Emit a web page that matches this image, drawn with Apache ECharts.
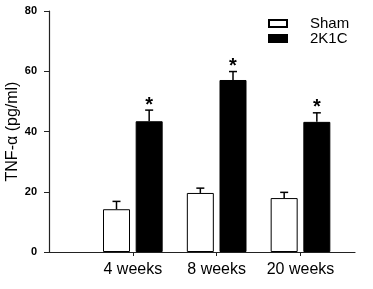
<!DOCTYPE html>
<html>
<head>
<meta charset="utf-8">
<style>
  html, body { margin: 0; padding: 0; background: #fff; }
  #chart { width: 373px; height: 289px; }
</style>
<script src="https://cdn.jsdelivr.net/npm/echarts@6/dist/echarts.min.js"></script>
</head>
<body>
<div id="chart"></div>
<script>
const groups = ['4 weeks', '8 weeks', '20 weeks'];
const groupPos = [1, 2, 3];
const shamMean = [14.2, 19.6, 17.9];
const shamErr = [2.6, 1.6, 1.9];
const k1cMean = [43.4, 57.1, 43.2];
const k1cErr = [3.7, 2.8, 3.0];
const yTicks = [0, 20, 40, 60, 80];

const BAR_W = 27;
const BAR_GAP = 0.21;
const FONT = '"Liberation Sans", Arial, sans-serif';

const chart = echarts.init(document.getElementById('chart'));

const toPairs = (vals) => vals.map((v, i) => [groupPos[i], v]);

// error bar items: [x, mean, err, side(-1 sham / 1 2K1C), star]
const errData = [];
groupPos.forEach((x, i) => {
  errData.push([x, shamMean[i], shamErr[i], -1, 0]);
  errData.push([x, k1cMean[i], k1cErr[i], 1, 1]);
});

const renderErr = (params, api) => {
  const half = (BAR_W + BAR_W * BAR_GAP) / 2;
  const dx = api.value(3) * half;
  const base = api.coord([api.value(0), api.value(1)]);
  const top = api.coord([api.value(0), api.value(1) + api.value(2)]);
  const x = base[0] + dx;
  const style = { stroke: '#000', lineWidth: 1.5 };
  const children = [
    { type: 'line', shape: { x1: x, y1: base[1], x2: x, y2: top[1] }, style },
    { type: 'line', shape: { x1: x - 4, y1: top[1], x2: x + 4, y2: top[1] }, style }
  ];
  if (api.value(4)) {
    children.push({
      type: 'text',
      style: {
        text: '*', x, y: top[1] - 5,
        align: 'center', verticalAlign: 'middle',
        font: 'bold 20px ' + FONT, fill: '#000'
      }
    });
  }
  return { type: 'group', children };
};

chart.setOption({
  animation: false,
  grid: { left: 49, right: 18, top: 11, bottom: 37, outerBoundsMode: 'none', containLabel: false },
  legend: {
    orient: 'vertical',
    left: 268,
    top: 16,
    padding: 0,
    itemWidth: 18,
    itemHeight: 7,
    itemGap: 0,
    icon: 'rect',
    textStyle: { fontFamily: FONT, fontSize: 15, color: '#000', lineHeight: 12, padding: [0, 0, 0, 18] },
    data: ['Sham', '2K1C']
  },
  xAxis: {
    type: 'value',
    min: 0,
    max: 3.65,
    interval: 1,
    splitLine: { show: false },
    axisLine: { lineStyle: { color: '#222', width: 1.2 } },
    axisTick: { customValues: groupPos, length: 4, lineStyle: { color: '#222' } },
    axisLabel: {
      customValues: groupPos,
      formatter: (v) => groups[groupPos.indexOf(v)] || '',
      fontFamily: FONT, fontSize: 16, color: '#000', margin: 10
    }
  },
  yAxis: {
    type: 'value',
    min: 0,
    max: 80,
    interval: 20,
    name: 'TNF-α (pg/ml)',
    nameLocation: 'middle',
    nameGap: 28,
    nameMoveOverlap: false,
    nameTextStyle: { fontFamily: FONT, fontSize: 16, color: '#000' },
    splitLine: { show: false },
    axisLine: { show: true, lineStyle: { color: '#222', width: 1.2 } },
    axisTick: { show: true, length: 5, lineStyle: { color: '#222' } },
    axisLabel: {
      customValues: yTicks,
      fontFamily: FONT, fontSize: 11, fontWeight: 'bold', color: '#000', margin: 12
    }
  },
  series: [
    {
      name: 'Sham',
      type: 'bar',
      barWidth: BAR_W,
      barGap: BAR_GAP * 100 + '%',
      data: toPairs(shamMean),
      itemStyle: { color: '#fff', borderColor: '#000', borderWidth: 1 }
    },
    {
      name: '2K1C',
      type: 'bar',
      barWidth: BAR_W,
      barGap: BAR_GAP * 100 + '%',
      data: toPairs(k1cMean),
      itemStyle: { color: '#000', borderColor: '#000', borderWidth: 1 }
    },
    {
      type: 'custom',
      renderItem: renderErr,
      data: errData,
      z: 3,
      silent: true
    }
  ]
});
</script>
</body>
</html>
